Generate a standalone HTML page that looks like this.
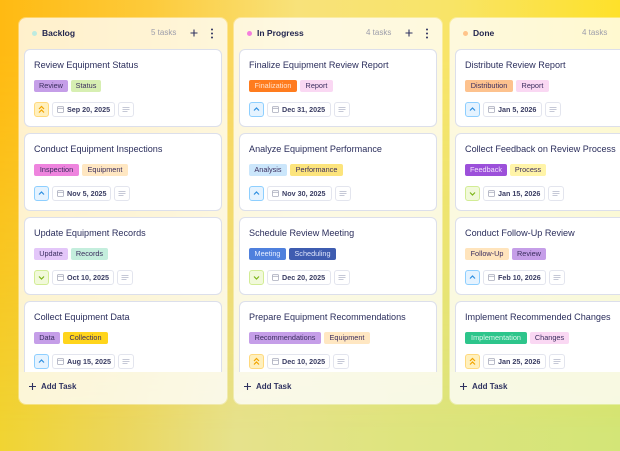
<!DOCTYPE html>
<html><head><meta charset="utf-8">
<style>
*{margin:0;padding:0;box-sizing:border-box}
html,body{width:620px;height:451px;overflow:hidden}
body{position:relative;font-family:"Liberation Sans",sans-serif;background:linear-gradient(90deg,#F1D432 0%,#EBD75E 20%,#E6E28C 38%,#DEE47E 65%,#D3E577 100%)}
.top{position:absolute;left:0;top:0;width:620px;height:451px;background:linear-gradient(90deg,#FFBA12 0%,#FDCA3A 24%,#F8E27A 48%,#F8E468 72%,#FEE12A 100%);-webkit-mask-image:linear-gradient(180deg,#000 0%,#000 12%,rgba(0,0,0,0.55) 55%,transparent 96%);mask-image:linear-gradient(180deg,#000 0%,#000 12%,rgba(0,0,0,0.55) 55%,transparent 96%)}
.col{position:absolute;top:18px;width:208px;height:386px;border-radius:7px;background:rgba(255,255,255,0.78);overflow:hidden;box-shadow:0 0 0 1px rgba(255,255,255,0.35)}
.dot{position:absolute;left:13px;top:13px;width:5px;height:5px;border-radius:50%}
.ht{position:absolute;left:23px;top:10px;font-size:8.5px;line-height:10px;font-weight:bold;color:#23264F;white-space:nowrap}
.cnt{position:absolute;left:132px;top:10px;font-size:8px;line-height:10px;color:#9C9DAB;white-space:nowrap}
.pl{position:absolute;left:171px;top:11px}
.mn{position:absolute;left:191px;top:10px}
.list{position:absolute;left:5px;top:31px;width:198px;height:323px;overflow:hidden}
.card{position:absolute;left:0;width:198px;height:78px;background:#fff;border:1px solid #DCDFEB;border-radius:6px}
.t{position:absolute;left:9px;top:9px;font-size:9.1px;line-height:12px;color:#2B2E5C;white-space:nowrap}
.tags{position:absolute;left:9px;top:30px;display:flex;gap:3px}
.tag{height:12px;font-size:7.3px;line-height:12px;text-align:center;border-radius:2px;color:#3A2D5E;white-space:nowrap}
.row{position:absolute;left:9px;top:52px;display:flex;gap:3px}
.pri{width:15px;height:15px;border-radius:3px;border:1px solid}
.pri svg{display:block}
.up{background:#E5F3FF;border-color:#8ECFFF}
.dn{background:#F1F9DA;border-color:#D2EC95}
.hi{background:#FFF0BE;border-color:#FFD97D}
.date{height:15px;border:1px solid #E3E5EE;border-radius:3px;position:relative;font-size:7.2px;font-weight:bold;line-height:13px;padding-left:14px;color:#3A3D63;white-space:nowrap;background:#fff}
.date svg{position:absolute;left:4px;top:3px}
.desc{width:16px;height:15px;border:1px solid #E3E5EE;border-radius:3px;background:#fff}
.desc svg{display:block}
.foot{position:absolute;left:0;top:354px;width:208px;height:32px;background:rgba(255,255,255,0.12)}
.add{position:absolute;left:22px;top:10px;font-size:8px;line-height:10px;font-weight:bold;color:#2F3260;white-space:nowrap}
.ap{position:absolute;left:10px;top:11px}
</style></head><body>
<div class="top"></div>

<!-- Column 1 -->
<div class="col" style="left:19px">
  <div class="dot" style="background:#BDEBE0"></div>
  <div class="ht">Backlog</div>
  <div class="cnt">5 tasks</div>
  <svg class="pl" width="8" height="8" viewBox="0 0 8 8"><path d="M4 0.5V7.5M0.5 4H7.5" stroke="#2F3260" stroke-width="1.1"/></svg>
  <svg class="mn" width="4" height="11" viewBox="0 0 4 11"><circle cx="2" cy="1.5" r="1" fill="#2F3260"/><circle cx="2" cy="5.5" r="1" fill="#2F3260"/><circle cx="2" cy="9.5" r="1" fill="#2F3260"/></svg>
  <div class="list">
    <div class="card" style="top:0">
      <div class="t">Review Equipment Status</div>
      <div class="tags"><div class="tag" style="width:34px;background:#C59EE8">Review</div><div class="tag" style="width:30px;background:#D7EFB2">Status</div></div>
      <div class="row"><div class="pri hi"><svg width="13" height="13" viewBox="0 0 13 13"><polyline points="4,6 6.5,3.5 9,6" fill="none" stroke="#F2A400" stroke-width="1.2"/><polyline points="4,9.5 6.5,7 9,9.5" fill="none" stroke="#F2A400" stroke-width="1.2"/></svg></div><div class="date" style="width:63px"><svg width="7" height="7" viewBox="0 0 7 7"><rect x="0.5" y="0.5" width="6" height="6" rx="1" fill="none" stroke="#A9ACBC" stroke-width="0.8"/><path d="M0.5 2.3H6.5" stroke="#A9ACBC" stroke-width="0.8"/></svg>Sep 20, 2025</div><div class="desc"><svg width="14" height="13" viewBox="0 0 14 13"><path d="M3.5 4.5H10.5M3.5 6.5H10.5M3.5 8.5H8.5" stroke="#C5C8D6" stroke-width="0.9"/></svg></div></div>
    </div>
    <div class="card" style="top:84px">
      <div class="t">Conduct Equipment Inspections</div>
      <div class="tags"><div class="tag" style="width:45px;background:#EE84DE">Inspection</div><div class="tag" style="width:46px;background:#FFE7C2">Equipment</div></div>
      <div class="row"><div class="pri up"><svg width="13" height="13" viewBox="0 0 13 13"><polyline points="4,7.5 6.5,5 9,7.5" fill="none" stroke="#2E8FE0" stroke-width="1.2"/></svg></div><div class="date" style="width:59px"><svg width="7" height="7" viewBox="0 0 7 7"><rect x="0.5" y="0.5" width="6" height="6" rx="1" fill="none" stroke="#A9ACBC" stroke-width="0.8"/><path d="M0.5 2.3H6.5" stroke="#A9ACBC" stroke-width="0.8"/></svg>Nov 5, 2025</div><div class="desc"><svg width="14" height="13" viewBox="0 0 14 13"><path d="M3.5 4.5H10.5M3.5 6.5H10.5M3.5 8.5H8.5" stroke="#C5C8D6" stroke-width="0.9"/></svg></div></div>
    </div>
    <div class="card" style="top:168px">
      <div class="t">Update Equipment Records</div>
      <div class="tags"><div class="tag" style="width:34px;background:#E3C6F9">Update</div><div class="tag" style="width:37px;background:#C4EEDD">Records</div></div>
      <div class="row"><div class="pri dn"><svg width="13" height="13" viewBox="0 0 13 13"><polyline points="4,5.5 6.5,8 9,5.5" fill="none" stroke="#7CB518" stroke-width="1.2"/></svg></div><div class="date" style="width:62px"><svg width="7" height="7" viewBox="0 0 7 7"><rect x="0.5" y="0.5" width="6" height="6" rx="1" fill="none" stroke="#A9ACBC" stroke-width="0.8"/><path d="M0.5 2.3H6.5" stroke="#A9ACBC" stroke-width="0.8"/></svg>Oct 10, 2025</div><div class="desc"><svg width="14" height="13" viewBox="0 0 14 13"><path d="M3.5 4.5H10.5M3.5 6.5H10.5M3.5 8.5H8.5" stroke="#C5C8D6" stroke-width="0.9"/></svg></div></div>
    </div>
    <div class="card" style="top:252px">
      <div class="t">Collect Equipment Data</div>
      <div class="tags"><div class="tag" style="width:26px;background:#C59EE8">Data</div><div class="tag" style="width:45px;background:#FFD51C">Collection</div></div>
      <div class="row"><div class="pri up"><svg width="13" height="13" viewBox="0 0 13 13"><polyline points="4,7.5 6.5,5 9,7.5" fill="none" stroke="#2E8FE0" stroke-width="1.2"/></svg></div><div class="date" style="width:63px"><svg width="7" height="7" viewBox="0 0 7 7"><rect x="0.5" y="0.5" width="6" height="6" rx="1" fill="none" stroke="#A9ACBC" stroke-width="0.8"/><path d="M0.5 2.3H6.5" stroke="#A9ACBC" stroke-width="0.8"/></svg>Aug 15, 2025</div><div class="desc"><svg width="14" height="13" viewBox="0 0 14 13"><path d="M3.5 4.5H10.5M3.5 6.5H10.5M3.5 8.5H8.5" stroke="#C5C8D6" stroke-width="0.9"/></svg></div></div>
    </div>
  </div>
  <div class="foot"><svg class="ap" width="7" height="7" viewBox="0 0 7 7"><path d="M3.5 0V7M0 3.5H7" stroke="#2F3260" stroke-width="1.1"/></svg><div class="add">Add Task</div></div>
</div>

<!-- Column 2 -->
<div class="col" style="left:234px">
  <div class="dot" style="background:#F57EDD"></div>
  <div class="ht">In Progress</div>
  <div class="cnt">4 tasks</div>
  <svg class="pl" width="8" height="8" viewBox="0 0 8 8"><path d="M4 0.5V7.5M0.5 4H7.5" stroke="#2F3260" stroke-width="1.1"/></svg>
  <svg class="mn" width="4" height="11" viewBox="0 0 4 11"><circle cx="2" cy="1.5" r="1" fill="#2F3260"/><circle cx="2" cy="5.5" r="1" fill="#2F3260"/><circle cx="2" cy="9.5" r="1" fill="#2F3260"/></svg>
  <div class="list">
    <div class="card" style="top:0">
      <div class="t">Finalize Equipment Review Report</div>
      <div class="tags"><div class="tag" style="width:48px;background:#FF7C1E;color:#FFE2CC">Finalization</div><div class="tag" style="width:33px;background:#FAD8F3">Report</div></div>
      <div class="row"><div class="pri up"><svg width="13" height="13" viewBox="0 0 13 13"><polyline points="4,7.5 6.5,5 9,7.5" fill="none" stroke="#2E8FE0" stroke-width="1.2"/></svg></div><div class="date" style="width:64px"><svg width="7" height="7" viewBox="0 0 7 7"><rect x="0.5" y="0.5" width="6" height="6" rx="1" fill="none" stroke="#A9ACBC" stroke-width="0.8"/><path d="M0.5 2.3H6.5" stroke="#A9ACBC" stroke-width="0.8"/></svg>Dec 31, 2025</div><div class="desc"><svg width="14" height="13" viewBox="0 0 14 13"><path d="M3.5 4.5H10.5M3.5 6.5H10.5M3.5 8.5H8.5" stroke="#C5C8D6" stroke-width="0.9"/></svg></div></div>
    </div>
    <div class="card" style="top:84px">
      <div class="t">Analyze Equipment Performance</div>
      <div class="tags"><div class="tag" style="width:38px;background:#CBE6FB">Analysis</div><div class="tag" style="width:53px;background:#FCE47C">Performance</div></div>
      <div class="row"><div class="pri up"><svg width="13" height="13" viewBox="0 0 13 13"><polyline points="4,7.5 6.5,5 9,7.5" fill="none" stroke="#2E8FE0" stroke-width="1.2"/></svg></div><div class="date" style="width:65px"><svg width="7" height="7" viewBox="0 0 7 7"><rect x="0.5" y="0.5" width="6" height="6" rx="1" fill="none" stroke="#A9ACBC" stroke-width="0.8"/><path d="M0.5 2.3H6.5" stroke="#A9ACBC" stroke-width="0.8"/></svg>Nov 30, 2025</div><div class="desc"><svg width="14" height="13" viewBox="0 0 14 13"><path d="M3.5 4.5H10.5M3.5 6.5H10.5M3.5 8.5H8.5" stroke="#C5C8D6" stroke-width="0.9"/></svg></div></div>
    </div>
    <div class="card" style="top:168px">
      <div class="t">Schedule Review Meeting</div>
      <div class="tags"><div class="tag" style="width:37px;background:#4F80DD;color:#E6EEFF">Meeting</div><div class="tag" style="width:47px;background:#3E5CB0;color:#DDE4FA">Scheduling</div></div>
      <div class="row"><div class="pri dn"><svg width="13" height="13" viewBox="0 0 13 13"><polyline points="4,5.5 6.5,8 9,5.5" fill="none" stroke="#7CB518" stroke-width="1.2"/></svg></div><div class="date" style="width:64px"><svg width="7" height="7" viewBox="0 0 7 7"><rect x="0.5" y="0.5" width="6" height="6" rx="1" fill="none" stroke="#A9ACBC" stroke-width="0.8"/><path d="M0.5 2.3H6.5" stroke="#A9ACBC" stroke-width="0.8"/></svg>Dec 20, 2025</div><div class="desc"><svg width="14" height="13" viewBox="0 0 14 13"><path d="M3.5 4.5H10.5M3.5 6.5H10.5M3.5 8.5H8.5" stroke="#C5C8D6" stroke-width="0.9"/></svg></div></div>
    </div>
    <div class="card" style="top:252px">
      <div class="t">Prepare Equipment Recommendations</div>
      <div class="tags"><div class="tag" style="width:72px;background:#C59EE8">Recommendations</div><div class="tag" style="width:46px;background:#FFE7C2">Equipment</div></div>
      <div class="row"><div class="pri hi"><svg width="13" height="13" viewBox="0 0 13 13"><polyline points="4,6 6.5,3.5 9,6" fill="none" stroke="#F2A400" stroke-width="1.2"/><polyline points="4,9.5 6.5,7 9,9.5" fill="none" stroke="#F2A400" stroke-width="1.2"/></svg></div><div class="date" style="width:63px"><svg width="7" height="7" viewBox="0 0 7 7"><rect x="0.5" y="0.5" width="6" height="6" rx="1" fill="none" stroke="#A9ACBC" stroke-width="0.8"/><path d="M0.5 2.3H6.5" stroke="#A9ACBC" stroke-width="0.8"/></svg>Dec 10, 2025</div><div class="desc"><svg width="14" height="13" viewBox="0 0 14 13"><path d="M3.5 4.5H10.5M3.5 6.5H10.5M3.5 8.5H8.5" stroke="#C5C8D6" stroke-width="0.9"/></svg></div></div>
    </div>
  </div>
  <div class="foot"><svg class="ap" width="7" height="7" viewBox="0 0 7 7"><path d="M3.5 0V7M0 3.5H7" stroke="#2F3260" stroke-width="1.1"/></svg><div class="add">Add Task</div></div>
</div>

<!-- Column 3 -->
<div class="col" style="left:450px">
  <div class="dot" style="background:#FFC48A"></div>
  <div class="ht">Done</div>
  <div class="cnt">4 tasks</div>
  <svg class="pl" width="8" height="8" viewBox="0 0 8 8"><path d="M4 0.5V7.5M0.5 4H7.5" stroke="#2F3260" stroke-width="1.1"/></svg>
  <svg class="mn" width="4" height="11" viewBox="0 0 4 11"><circle cx="2" cy="1.5" r="1" fill="#2F3260"/><circle cx="2" cy="5.5" r="1" fill="#2F3260"/><circle cx="2" cy="9.5" r="1" fill="#2F3260"/></svg>
  <div class="list">
    <div class="card" style="top:0">
      <div class="t">Distribute Review Report</div>
      <div class="tags"><div class="tag" style="width:48px;background:#FDC28E">Distribution</div><div class="tag" style="width:33px;background:#FAD8F3">Report</div></div>
      <div class="row"><div class="pri up"><svg width="13" height="13" viewBox="0 0 13 13"><polyline points="4,7.5 6.5,5 9,7.5" fill="none" stroke="#2E8FE0" stroke-width="1.2"/></svg></div><div class="date" style="width:59px"><svg width="7" height="7" viewBox="0 0 7 7"><rect x="0.5" y="0.5" width="6" height="6" rx="1" fill="none" stroke="#A9ACBC" stroke-width="0.8"/><path d="M0.5 2.3H6.5" stroke="#A9ACBC" stroke-width="0.8"/></svg>Jan 5, 2026</div><div class="desc"><svg width="14" height="13" viewBox="0 0 14 13"><path d="M3.5 4.5H10.5M3.5 6.5H10.5M3.5 8.5H8.5" stroke="#C5C8D6" stroke-width="0.9"/></svg></div></div>
    </div>
    <div class="card" style="top:84px">
      <div class="t">Collect Feedback on Review Process</div>
      <div class="tags"><div class="tag" style="width:42px;background:#9C50DA;color:#F1E4FB">Feedback</div><div class="tag" style="width:36px;background:#FFF4A8">Process</div></div>
      <div class="row"><div class="pri dn"><svg width="13" height="13" viewBox="0 0 13 13"><polyline points="4,5.5 6.5,8 9,5.5" fill="none" stroke="#7CB518" stroke-width="1.2"/></svg></div><div class="date" style="width:62px"><svg width="7" height="7" viewBox="0 0 7 7"><rect x="0.5" y="0.5" width="6" height="6" rx="1" fill="none" stroke="#A9ACBC" stroke-width="0.8"/><path d="M0.5 2.3H6.5" stroke="#A9ACBC" stroke-width="0.8"/></svg>Jan 15, 2026</div><div class="desc"><svg width="14" height="13" viewBox="0 0 14 13"><path d="M3.5 4.5H10.5M3.5 6.5H10.5M3.5 8.5H8.5" stroke="#C5C8D6" stroke-width="0.9"/></svg></div></div>
    </div>
    <div class="card" style="top:168px">
      <div class="t">Conduct Follow-Up Review</div>
      <div class="tags"><div class="tag" style="width:44px;background:#FFE4BC">Follow-Up</div><div class="tag" style="width:34px;background:#C59EE8">Review</div></div>
      <div class="row"><div class="pri up"><svg width="13" height="13" viewBox="0 0 13 13"><polyline points="4,7.5 6.5,5 9,7.5" fill="none" stroke="#2E8FE0" stroke-width="1.2"/></svg></div><div class="date" style="width:63px"><svg width="7" height="7" viewBox="0 0 7 7"><rect x="0.5" y="0.5" width="6" height="6" rx="1" fill="none" stroke="#A9ACBC" stroke-width="0.8"/><path d="M0.5 2.3H6.5" stroke="#A9ACBC" stroke-width="0.8"/></svg>Feb 10, 2026</div><div class="desc"><svg width="14" height="13" viewBox="0 0 14 13"><path d="M3.5 4.5H10.5M3.5 6.5H10.5M3.5 8.5H8.5" stroke="#C5C8D6" stroke-width="0.9"/></svg></div></div>
    </div>
    <div class="card" style="top:252px">
      <div class="t">Implement Recommended Changes</div>
      <div class="tags"><div class="tag" style="width:62px;background:#2DC58B;color:#DDF7EC">Implementation</div><div class="tag" style="width:39px;background:#FAD8F3">Changes</div></div>
      <div class="row"><div class="pri hi"><svg width="13" height="13" viewBox="0 0 13 13"><polyline points="4,6 6.5,3.5 9,6" fill="none" stroke="#F2A400" stroke-width="1.2"/><polyline points="4,9.5 6.5,7 9,9.5" fill="none" stroke="#F2A400" stroke-width="1.2"/></svg></div><div class="date" style="width:63px"><svg width="7" height="7" viewBox="0 0 7 7"><rect x="0.5" y="0.5" width="6" height="6" rx="1" fill="none" stroke="#A9ACBC" stroke-width="0.8"/><path d="M0.5 2.3H6.5" stroke="#A9ACBC" stroke-width="0.8"/></svg>Jan 25, 2026</div><div class="desc"><svg width="14" height="13" viewBox="0 0 14 13"><path d="M3.5 4.5H10.5M3.5 6.5H10.5M3.5 8.5H8.5" stroke="#C5C8D6" stroke-width="0.9"/></svg></div></div>
    </div>
  </div>
  <div class="foot"><svg class="ap" width="7" height="7" viewBox="0 0 7 7"><path d="M3.5 0V7M0 3.5H7" stroke="#2F3260" stroke-width="1.1"/></svg><div class="add">Add Task</div></div>
</div>
</body></html>
